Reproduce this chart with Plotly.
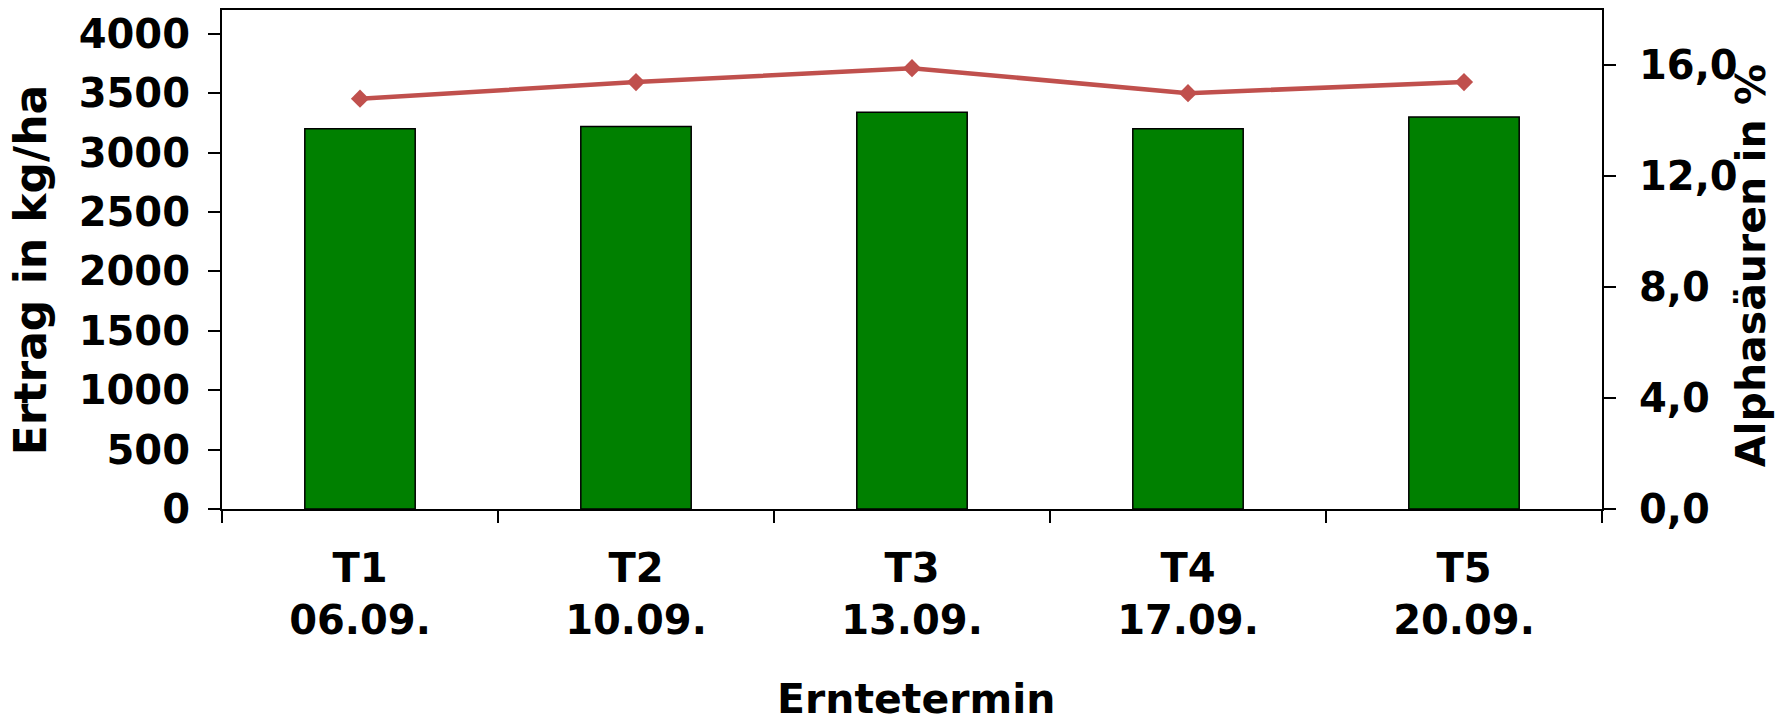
import plotly.graph_objects as go

categories = ["T1<br>06.09.", "T2<br>10.09.", "T3<br>13.09.", "T4<br>17.09.", "T5<br>20.09."]
ertrag = [3200, 3220, 3340, 3200, 3300]
alpha = [14.8, 15.4, 15.9, 15.0, 15.4]

FONT = "DejaVu Sans"
TICK_FS = 40

fig = go.Figure()
fig.add_trace(go.Bar(
    x=categories, y=ertrag, name="Ertrag",
    marker=dict(color="#008000", line=dict(color="black", width=1.5)),
))
fig.add_trace(go.Scatter(
    x=categories, y=alpha, yaxis="y2", name="Alphasäuren",
    mode="lines+markers",
    line=dict(color="#C0504D", width=4.5),
    marker=dict(symbol="diamond", size=14, color="#C0504D"),
))

axis_font = dict(family=FONT, size=TICK_FS, color="black", weight="bold")

fig.update_layout(
    width=1784, height=723,
    margin=dict(l=222, r=182, t=8, b=214.4),
    paper_bgcolor="white", plot_bgcolor="white",
    showlegend=False,
    separators=",.",
    bargap=0.6,
    font=dict(family=FONT, color="black"),
    xaxis=dict(
        type="category", range=[-0.5, 4.5],
        showline=True, linecolor="black", linewidth=2, mirror=True,
        ticks="outside", tickson="boundaries", ticklen=12, tickwidth=1.5, tickcolor="black",
        tickfont=axis_font, showgrid=False, ticklabelstandoff=23,
    ),
    yaxis=dict(
        range=[0, 4200], dtick=500, tickformat="d",
        showline=True, linecolor="black", linewidth=2,
        ticks="outside", ticklen=12, tickwidth=2, tickcolor="black",
        tickfont=axis_font, showgrid=False, zeroline=False, ticklabelstandoff=10,
    ),
    yaxis2=dict(
        range=[0, 18], dtick=4, tickformat=".1f", overlaying="y", side="right",
        showline=True, linecolor="black", linewidth=2,
        ticks="outside", ticklen=12, tickwidth=2, tickcolor="black",
        tickfont=axis_font, showgrid=False, zeroline=False, ticklabelstandoff=15,
    ),
    annotations=[
        dict(text="Ertrag in kg/ha", xref="paper", yref="paper", x=-0.139, y=0.4786,
             xanchor="center", yanchor="middle", textangle=-90, showarrow=False,
             font=dict(family=FONT, size=44, color="black", weight="bold")),
        dict(text="Alphasäuren in %", xref="paper", yref="paper", x=1.108, y=0.4866,
             xanchor="center", yanchor="middle", textangle=-90, showarrow=False,
             font=dict(family=FONT, size=41, color="black", weight="bold")),
        dict(text="Erntetermin", xref="paper", yref="paper", x=0.503, y=-0.381,
             xanchor="center", yanchor="middle", showarrow=False,
             font=dict(family=FONT, size=41, color="black", weight="bold")),
    ],
)

fig.write_html("out.html", config={"displayModeBar": False},
               post_script="document.body.style.margin='0';document.body.style.overflow='hidden';")
